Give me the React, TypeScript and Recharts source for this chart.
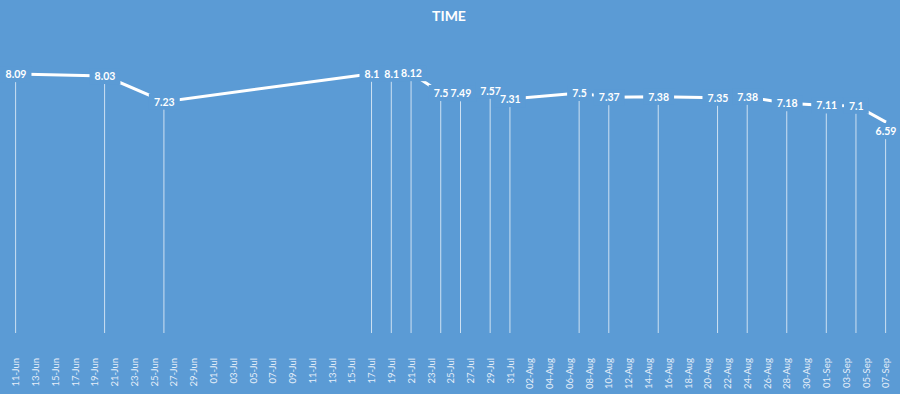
import { ComposedChart, Line, Bar, XAxis, YAxis, LabelList } from 'recharts';

const dates = [
  '2023-06-11', '2023-06-20', '2023-06-26', '2023-07-17', '2023-07-19',
  '2023-07-21', '2023-07-24', '2023-07-26', '2023-07-29', '2023-07-31',
  '2023-08-07', '2023-08-10', '2023-08-15', '2023-08-21', '2023-08-24',
  '2023-08-28', '2023-09-01', '2023-09-04', '2023-09-07',
];
const times = [
  8.09, 8.03, 7.23, 8.1, 8.1, 8.12, 7.5, 7.49, 7.57, 7.31,
  7.5, 7.37, 7.38, 7.35, 7.38, 7.18, 7.11, 7.1, 6.59,
];
const tickLabels = [
  '11-Jun', '13-Jun', '15-Jun', '17-Jun', '19-Jun', '21-Jun', '23-Jun', '25-Jun', '27-Jun', '29-Jun',
  '01-Jul', '03-Jul', '05-Jul', '07-Jul', '09-Jul', '11-Jul', '13-Jul', '15-Jul', '17-Jul', '19-Jul',
  '21-Jul', '23-Jul', '25-Jul', '27-Jul', '29-Jul', '31-Jul', '02-Aug', '04-Aug', '06-Aug', '08-Aug',
  '10-Aug', '12-Aug', '14-Aug', '16-Aug', '18-Aug', '20-Aug', '22-Aug', '24-Aug', '26-Aug', '28-Aug',
  '30-Aug', '01-Sep', '03-Sep', '05-Sep', '07-Sep',
];

const BG = '#5b9bd5';
const DAY = 86400000;
const start = Date.parse(dates[0]);

const data = dates.map((d, i) => ({
  day: Math.round((Date.parse(d) - start) / DAY),
  time: times[i],
}));
const tickDays = tickLabels.map((_, i) => i * 2);

// the last label sits a bit under its point, as in the original
const labelY = (y: number, index: number) => (index === data.length - 1 ? y + 9 : y);

const textWidth = (s: string) => s.split('').reduce((w, c) => w + (c === '.' ? 2.6 : 6.1), 0);

const LabelBox = (props: any) => {
  const { x, y, value, index } = props;
  const w = textWidth(String(value)) + 10;
  return <rect x={x - w / 2} y={labelY(y, index) - 8} width={w} height={16} fill={BG} />;
};

const LabelText = (props: any) => {
  const { x, y, value, index } = props;
  return (
    <text x={x} y={labelY(y, index) + 4} textAnchor="middle" fill="#fff" fontSize={10.5} fontWeight={700} fontFamily="Lato">
      {String(value)}
    </text>
  );
};

const DateTick = (props: any) => {
  const { x, y, payload } = props;
  return (
    <text
      x={x}
      y={y}
      transform={`rotate(-90, ${x}, ${y})`}
      dy={3.3}
      textAnchor="end"
      fill="#e4edf8"
      fontSize={9.5}
      fontFamily="Lato"
    >
      {tickLabels[payload.value / 2]}
    </text>
  );
};

export default function App() {
  return (
    <div style={{ position: 'relative', width: 900, height: 394, background: BG }}>
      <style>{'body{margin:0}'}</style>
      <div
        style={{
          position: 'absolute',
          top: 7,
          left: 0,
          width: 898,
          textAlign: 'center',
          color: '#fff',
          fontFamily: 'Lato',
          fontWeight: 700,
          fontSize: 14,
        }}
      >
        TIME
      </div>
      <ComposedChart width={900} height={394} data={data} margin={{ top: 45, right: 14, bottom: 0, left: 16 }}>
        <XAxis
          dataKey="day"
          type="number"
          domain={[0, 88]}
          ticks={tickDays}
          interval={0}
          axisLine={false}
          tickLine={false}
          tick={<DateTick />}
          tickMargin={19}
          height={61}
        />
        <YAxis hide domain={[0, 9]} />
        <Bar dataKey="time" barSize={1} fill="#ffffff" fillOpacity={0.7} isAnimationActive={false} />
        <Line
          dataKey="time"
          stroke="#ffffff"
          strokeWidth={3}
          dot={false}
          isAnimationActive={false}
        >
          <LabelList dataKey="time" content={<LabelBox />} />
          <LabelList dataKey="time" content={<LabelText />} />
        </Line>
      </ComposedChart>
    </div>
  );
}
